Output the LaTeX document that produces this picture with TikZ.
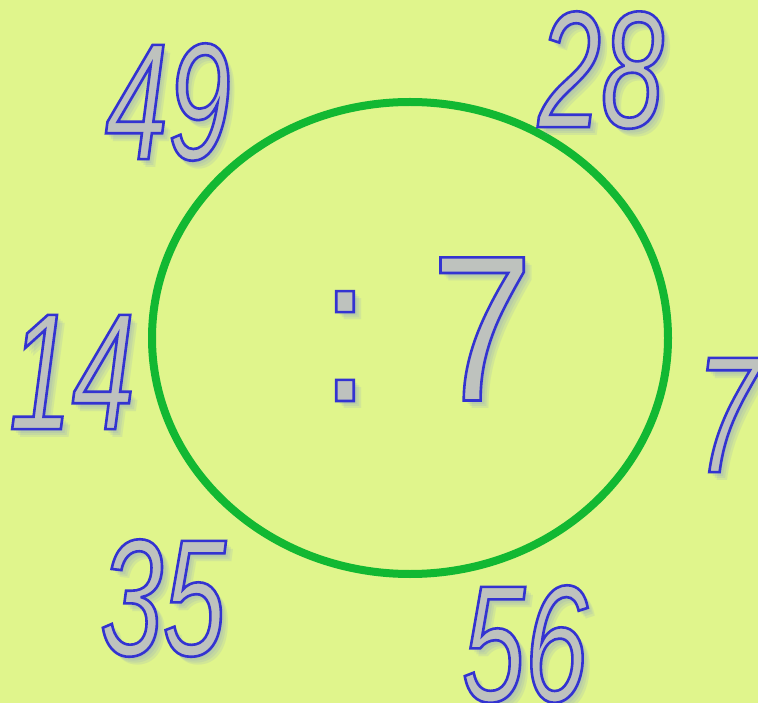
\documentclass[tikz,border=0pt]{standalone}
\usepackage{fontspec}
\setmainfont{Liberation Sans}
\newfontfamily\numfont[FakeStretch=0.68]{Liberation Sans}
\newfontfamily\bignumfont[FakeStretch=0.88]{Liberation Sans}
\usetikzlibrary{positioning}

\definecolor{bgyellow}{RGB}{224,245,140}
\definecolor{ringgreen}{RGB}{18,184,50}
\definecolor{digitgray}{RGB}{190,194,190}
\definecolor{glowblue}{RGB}{120,140,215}

% outlined digits: fill + stroke render mode
\newcommand{\hollow}[1]{{\color{digitgray}\special{pdf:code 2 Tr 2.6 w 0.2 0.2 0.82 RG}#1\special{pdf:code 0 Tr}}}

\begin{document}
\begin{tikzpicture}[x=1pt, y=-1pt,
    num/.style={inner sep=0pt, font=\numfont\itshape\fontsize{166}{166}\selectfont},
    bignum/.style={inner sep=0pt, font=\bignumfont\fontsize{208}{208}\selectfont},
    glow/.style={text=glowblue, opacity=0.14},
    ring/.style={draw=ringgreen, line width=8pt}
]
\useasboundingbox (0,0) rectangle (758,703);
\fill[bgyellow] (0,0) rectangle (758,703);

% the circle
\draw[ring] (410,338) ellipse [x radius=258, y radius=236];

% soft shadows behind the numbers
\foreach \d in {2,4,6,8}{
  \foreach \px/\py/\txt in {167/102/49, 601/70/28, 72/372/14, 727/415/7, 163/598/35, 525/644/56}{
    \node[num, glow] at (\px+\d,\py+\d) {\txt};
  }
  \node[bignum, glow] at (482+\d,329+\d) {7};
  \node[bignum, glow] at (345+\d,346+\d) {:};
}

% numbers round the circle
\node[num] (n49) at (168,102) {\hollow{49}};
\node[num] (n28) at (601,70) {\hollow{28}};
\node[num] (n14) at (72,372) {\hollow{14}};
\node[num] (n7) at (727,415) {\hollow{7}};
\node[num] (n35) at (163,598) {\hollow{35}};
\node[num] (n56) at (525,644) {\hollow{56}};

% divide by 7
\node[bignum] (div) at (345,346) {\hollow{:}};
\node[bignum] (seven) at (482,329) {\hollow{7}};

\end{tikzpicture}
\end{document}
